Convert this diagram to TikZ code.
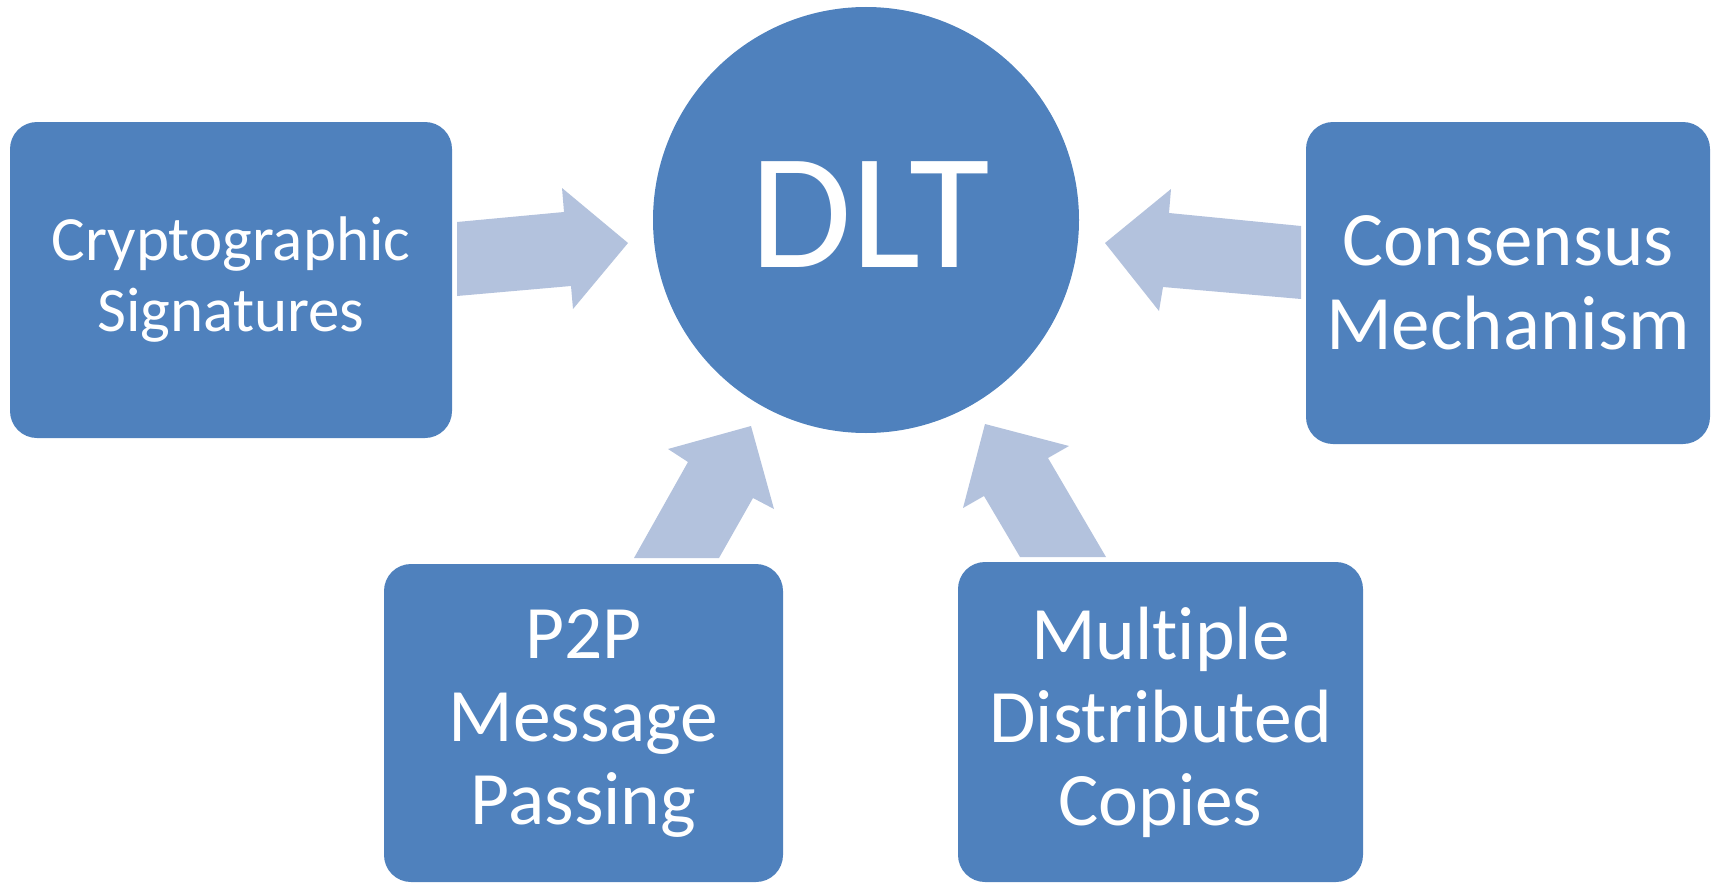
\documentclass[tikz,border=0pt]{standalone}
\usepackage{fontspec}
\setmainfont[Ligatures=NoCommon]{Carlito}
\definecolor{boxblue}{HTML}{4F81BD}
\definecolor{arrowblue}{HTML}{B3C2DD}
\begin{document}
\begin{tikzpicture}[x=1pt,y=-1pt,
  blk/.style={rectangle, rounded corners=27pt, fill=boxblue, draw=none, text=white, align=center, inner sep=0pt},
  hub/.style={circle, fill=boxblue, draw=none, inner sep=0pt, minimum size=426pt},
  barrow/.style={fill=arrowblue, draw=none}]
\useasboundingbox (0,0) rectangle (1719,883);
\node[hub] (dlt) at (866,220) {};
\node[text=white, inner sep=0pt, font=\fontsize{165}{170}\selectfont] (dltlabel) at (870,215) {DLT};
\node[blk, minimum width=442pt, minimum height=316pt, font=\fontsize{63}{71}\selectfont] (crypto) at (231,280) {Cryptographic\\Signatures};
\node[blk, minimum width=404pt, minimum height=322pt, font=\fontsize{77}{84}\selectfont] (cons) at (1508,283) {Consensus\\Mechanism};
\node[blk, minimum width=399pt, minimum height=318pt, font=\fontsize{75.5}{83}\selectfont] (p2p) at (583.5,723) {P2P\\Message\\Passing};
\node[blk, minimum width=405pt, minimum height=320pt, font=\fontsize{75.5}{83}\selectfont] (multi) at (1160.5,722) {Multiple\\Distributed\\Copies};
% block arrows pointing to the hub
\fill[barrow] (457,222) -- (564,212) -- (562,188) -- (628,243) -- (573,309) -- (571,286) -- (457,296) -- cycle;
\fill[barrow] (1105,243) -- (1171,189) -- (1169,213) -- (1301,226) -- (1301,299) -- (1163,287) -- (1159,311) -- cycle;
\fill[barrow] (634,558) -- (688,462) -- (668,449) -- (751,426) -- (774,509) -- (753,498) -- (719,558) -- cycle;
\fill[barrow] (1020,557) -- (984,496) -- (963,508) -- (985,424) -- (1069,446) -- (1048,458) -- (1106,557) -- cycle;
\end{tikzpicture}
\end{document}
